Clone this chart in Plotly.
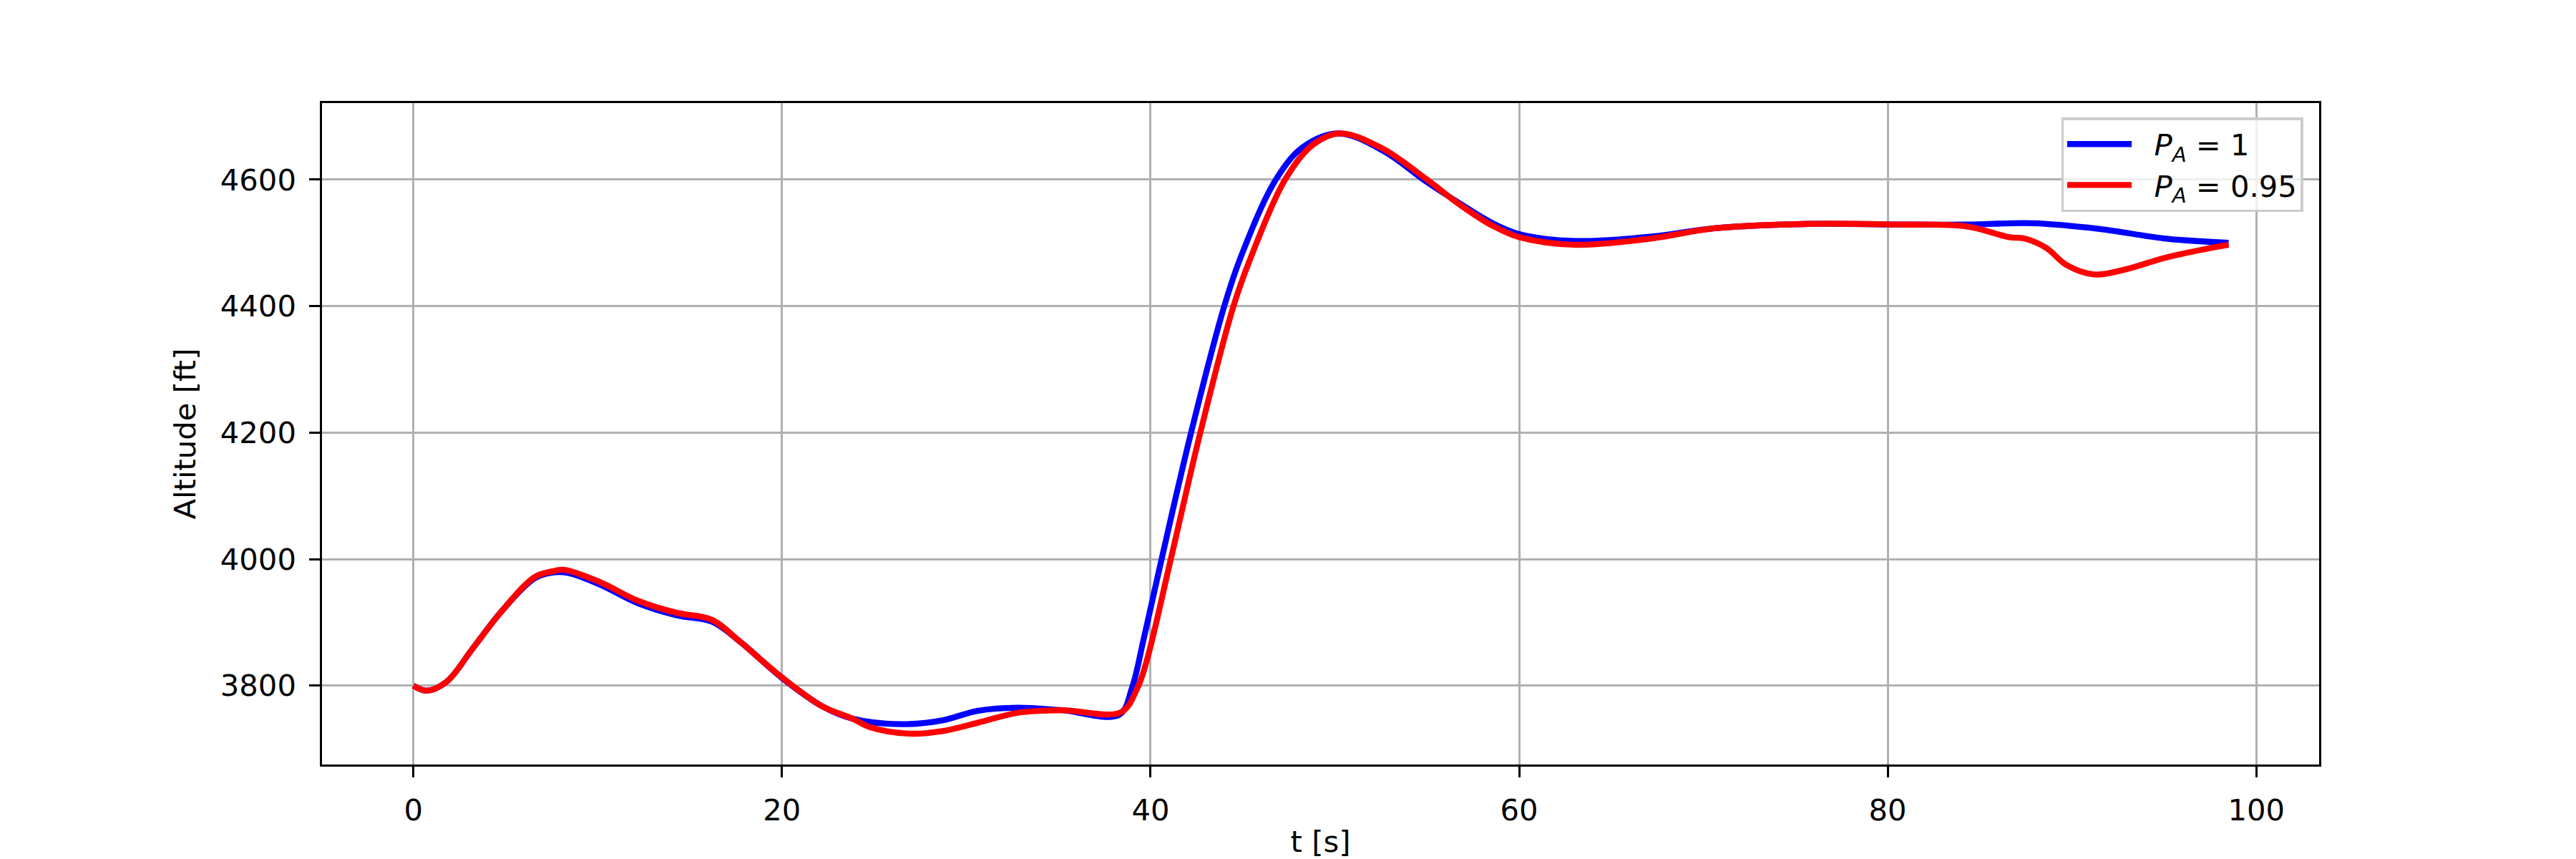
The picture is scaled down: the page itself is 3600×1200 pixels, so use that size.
import plotly.graph_objects as go

# time [s] and altitude [ft]
t_a1 = [0, 0.7, 1.8, 3.2, 4.8, 6.6, 7.6, 8.4, 10.1, 12.2, 14.3, 16.2, 17.7, 20.0,
        22.2, 23.8, 26.5, 28.7, 30.6, 32.8, 35.2, 38.3, 39.0, 39.6, 40.6,
        42.2, 44.0, 44.9, 46.8, 48.3, 50.2, 52.6, 55.0, 56.8, 58.5, 60.0,
        63.0, 67.2, 70.6, 75.8, 80.5, 84.3, 87.9, 91.5, 95.0, 98.5]
alt_a1 = [3800, 3792, 3806, 3858, 3918, 3970, 3979, 3978, 3960, 3930, 3911, 3901, 3870, 3812,
          3767, 3748, 3739, 3745, 3760, 3765, 3761, 3754, 3797, 3870, 4000,
          4200, 4400, 4478, 4600, 4652, 4673, 4646, 4596, 4562, 4532, 4514,
          4503, 4510, 4523, 4530, 4529, 4529, 4531, 4522, 4507, 4500]

t_a095 = [0, 0.7, 1.8, 3.2, 4.8, 6.6, 7.6, 8.2, 10.1, 12.2, 14.3, 16.2, 17.7, 20.0,
          22.2, 23.8, 24.8, 26.9, 28.7, 30.6, 32.8, 35.2, 38.4, 39.3, 39.8, 41.1,
          42.7, 44.5, 45.4, 47.3, 48.8, 50.3, 52.6, 55.0, 56.8, 58.5, 60.0, 63.0,
          67.2, 70.6, 75.8, 80.5, 84.3, 86.6, 87.4, 88.6, 89.7, 91.2, 92.9, 95.0,
          97.2, 98.5]
alt_a095 = [3800, 3792, 3806, 3858, 3918, 3972, 3981, 3983, 3964, 3934, 3915, 3904, 3870, 3813,
            3767, 3748, 3734, 3724, 3728, 3741, 3757, 3761, 3758, 3797, 3840, 4000,
            4200, 4400, 4474, 4600, 4655, 4673, 4649, 4600, 4560, 4528, 4509, 4497,
            4507, 4523, 4530, 4529, 4526, 4509, 4507, 4492, 4465, 4450, 4458, 4476,
            4490, 4497]

x_ticks = [0, 20, 40, 60, 80, 100]
y_ticks = [3800, 4000, 4200, 4400, 4600]

FS = 41.7
LW = 3.3
NB = '\u00a0\u00a0'

fig = go.Figure()
fig.add_trace(go.Scatter(x=t_a1, y=alt_a1, mode='lines',
                         line=dict(color='blue', width=8.3, shape='spline', smoothing=1.0),
                         name=NB + '<i>P</i><sub><i>A</i></sub> = 1'))
fig.add_trace(go.Scatter(x=t_a095, y=alt_a095, mode='lines',
                         line=dict(color='red', width=8.3, shape='spline', smoothing=1.0),
                         name=NB + '<i>P</i><sub><i>A</i></sub> = 0.95'))

axis_style = dict(showline=True, mirror=True, linecolor='black', linewidth=LW,
                  ticks='outside', ticklen=14.6, tickwidth=LW, tickcolor='black',
                  showgrid=True, gridcolor='#b0b0b0', gridwidth=LW, zeroline=False,
                  tickfont=dict(size=FS, color='black'), ticklabelstandoff=10,
                  automargin=False)

fig.update_xaxes(range=[-4.96, 103.41], tickvals=x_ticks, ticktext=[str(v) for v in x_ticks],
                 title=dict(text='t [s]', font=dict(size=FS, color='black'), standoff=22), **axis_style)
fig.update_yaxes(range=[3675.2, 4721], tickvals=y_ticks, ticktext=[str(v) for v in y_ticks],
                 title=dict(text='Altitude [ft]', font=dict(size=FS, color='black'), standoff=22), **axis_style)

# the page body adds an 8 px offset, so the figure is 8 px smaller and shifted margins
fig.update_layout(
    width=3592, height=1192,
    margin=dict(l=442, r=359, t=136, b=132),
    plot_bgcolor='white', paper_bgcolor='white',
    font=dict(family='DejaVu Sans', size=FS, color='black'),
    legend=dict(x=0.992, y=0.978, xanchor='right', yanchor='top',
                bgcolor='rgba(255,255,255,0.8)', bordercolor='#cccccc', borderwidth=LW,
                font=dict(size=FS), itemwidth=90, tracegroupgap=0),
    showlegend=True,
)

fig.write_html("out.html")
